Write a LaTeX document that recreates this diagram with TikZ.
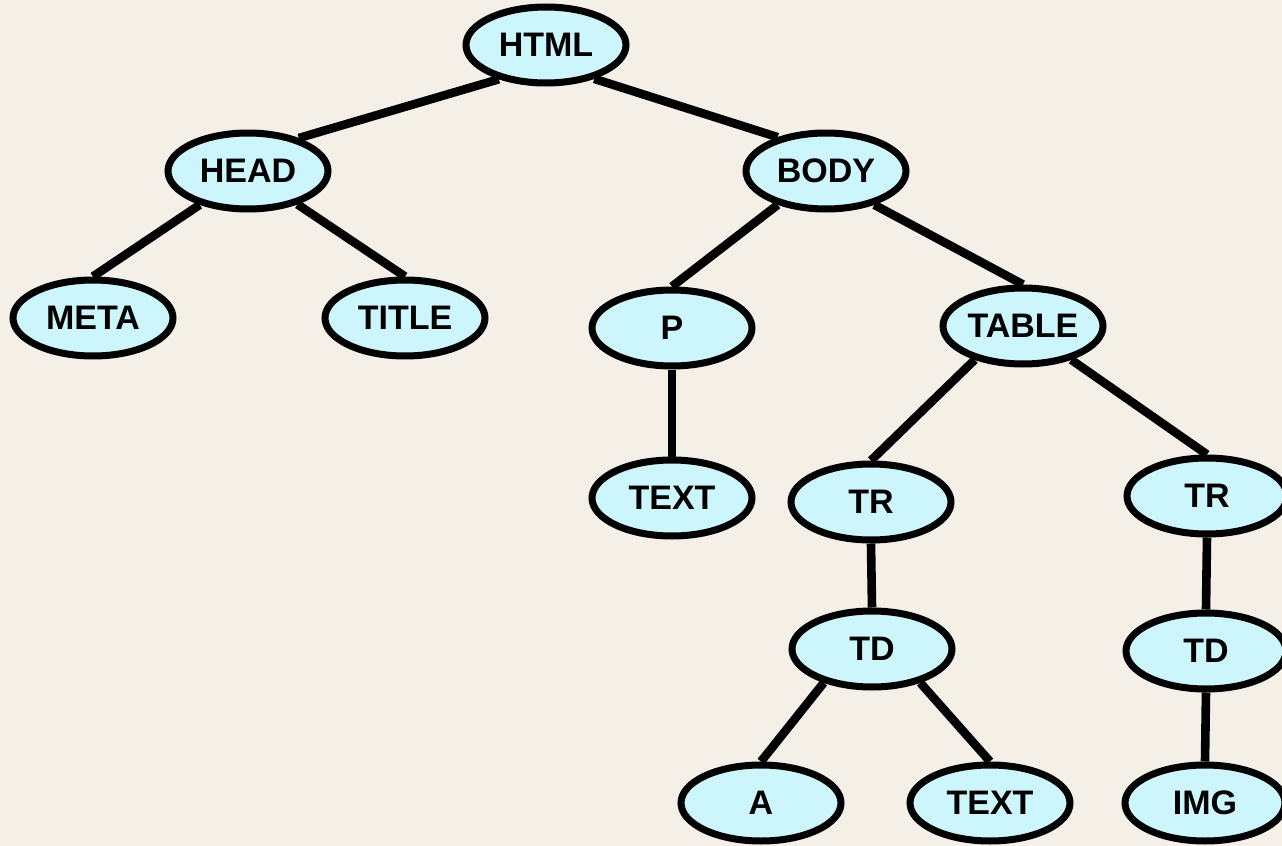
\documentclass[tikz,border=0pt]{standalone}
\usepackage{fontspec}
\setmainfont{Liberation Sans}
\usetikzlibrary{shapes.geometric}
\definecolor{DomInk}{HTML}{000000}
\definecolor{DomCyan}{HTML}{CCF5FC}
\definecolor{DomPaper}{HTML}{F4F0E7}
\tikzset{
  dom/node/.style={
    ellipse, draw=DomInk, line width=3.5pt, fill=DomCyan,
    minimum width=80pt, minimum height=38pt, inner sep=0pt,
    font=\fontsize{17}{19}\selectfont\bfseries
  },
  dom/edge/.style={draw=DomInk, line width=4.3pt}
}
\begin{document}
\begin{tikzpicture}[x=.5pt,y=-.5pt]
  \fill[DomPaper] (0,0) rectangle (1282,846);
  \useasboundingbox (0,0) rectangle (1282,846);
  % nodes, placed in pixel units
  \node[dom/node] (html)  at (546,45)  {HTML};
  \node[dom/node] (head)  at (248,171) {HEAD};
  \node[dom/node] (body)  at (826,171) {BODY};
  \node[dom/node] (meta)  at (93,318)  {META};
  \node[dom/node] (title) at (405,318) {TITLE};
  \node[dom/node] (p)     at (672,328) {P};
  \node[dom/node] (table) at (1023,326) {TABLE};
  \node[dom/node] (ptext) at (672,498) {TEXT};
  \node[dom/node] (tra)   at (871,502) {TR};
  \node[dom/node] (trb)   at (1207,496) {TR};
  \node[dom/node] (tda)   at (872,649) {TD};
  \node[dom/node] (tdb)   at (1206,651) {TD};
  \node[dom/node] (a)     at (761,803) {A};
  \node[dom/node] (dtext) at (990,803) {TEXT};
  \node[dom/node] (img)   at (1205,803) {IMG};
  % edges: leave the parent low on its side, meet the child on top
  \draw[dom/edge] (html.216) -- (head.33);
  \draw[dom/edge] (html.325) -- (body.145);
  \draw[dom/edge] (head.215) -- (meta.north);
  \draw[dom/edge] (head.326) -- (title.north);
  \draw[dom/edge] (body.215) -- (p.north);
  \draw[dom/edge] (body.325) -- (table.north);
  \draw[dom/edge] (p.south) -- (ptext.north);
  \draw[dom/edge] (table.215) -- (tra.north);
  \draw[dom/edge] (table.325) -- (trb.north);
  \draw[dom/edge] (tra.south) -- (tda.north);
  \draw[dom/edge] (trb.south) -- (tdb.north);
  \draw[dom/edge] (tda.215) -- (a.north);
  \draw[dom/edge] (tda.325) -- (dtext.north);
  \draw[dom/edge] (tdb.south) -- (img.north);
\end{tikzpicture}
\end{document}
